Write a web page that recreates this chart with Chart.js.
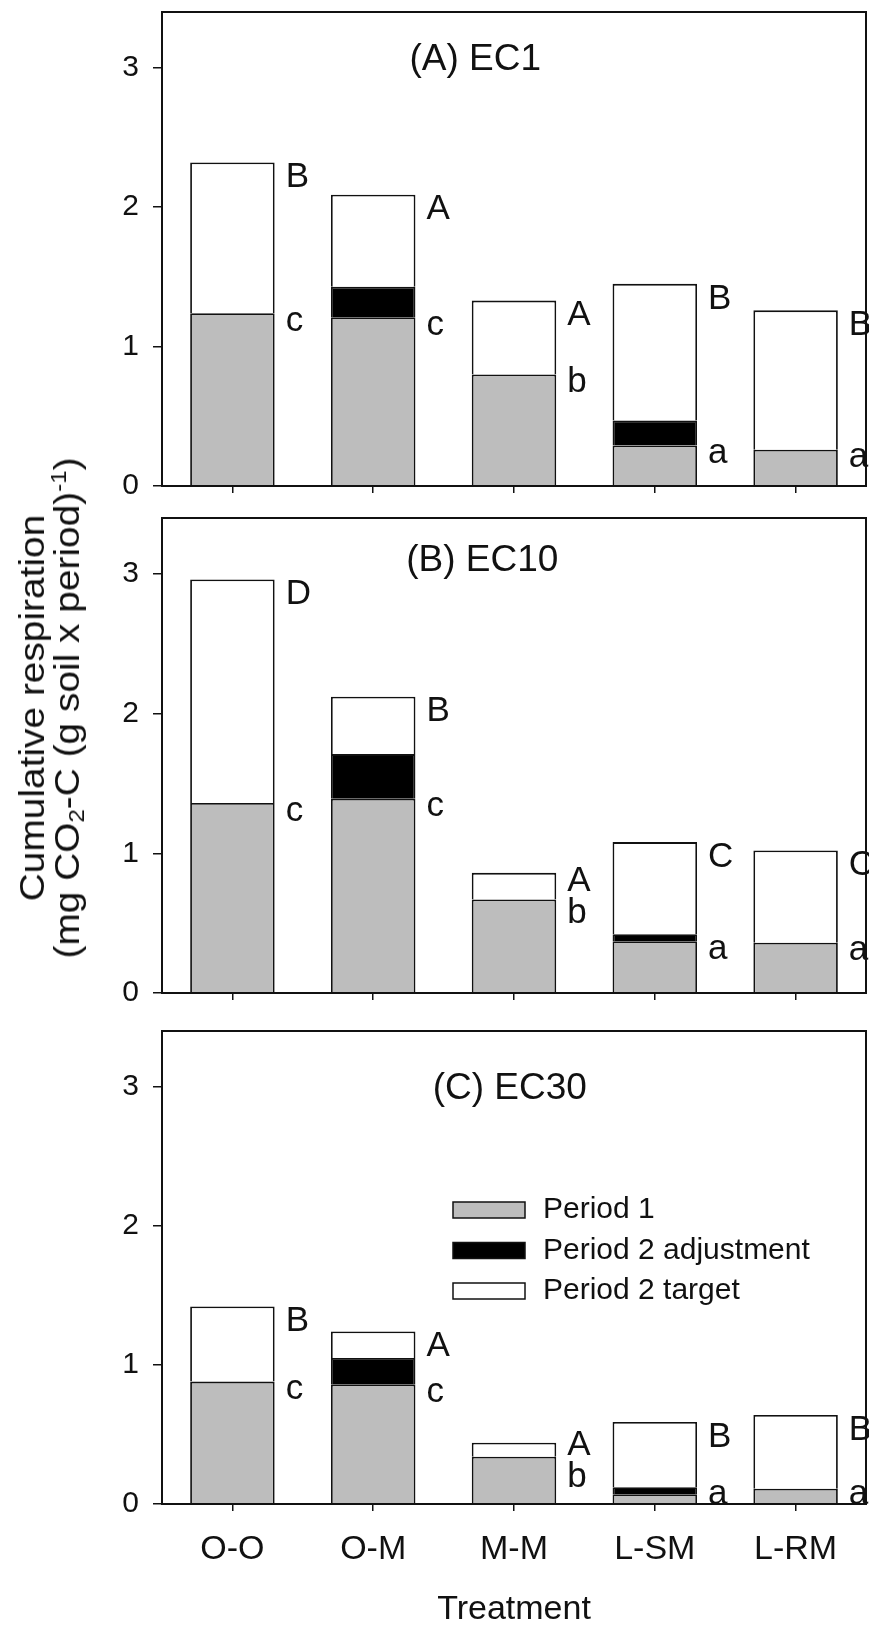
<!DOCTYPE html>
<html>
<head>
<meta charset="utf-8">
<script src="https://cdn.jsdelivr.net/npm/chart.js@4.4.0/dist/chart.umd.min.js"></script>
<style>
  body { margin: 0; background: #fff; }
  #wrap { position: relative; width: 869px; height: 1630px; overflow: hidden; }
  #wrap canvas { position: absolute; left: 0; }
  #ytitle {
    position: absolute; left: 49px; top: 708px;
    transform: translate(-50%, -50%) rotate(-90deg) scaleX(1.11);
    white-space: nowrap; text-align: center; color: #111;
    font-family: "Liberation Sans", Arial, sans-serif; font-size: 35px; line-height: 35px;
  }
  #ytitle sub, #ytitle sup { font-size: 0.62em; line-height: 0; }
  #ytitle sub { vertical-align: -0.25em; }
  #ytitle sup { vertical-align: 0.6em; }
</style>
</head>
<body>
<div id="wrap">
  <canvas id="ec1" width="869" height="506" style="top:0"></canvas>
  <canvas id="ec10" width="869" height="507" style="top:506px"></canvas>
  <canvas id="ec30" width="869" height="617" style="top:1013px"></canvas>
  <div id="ytitle">Cumulative respiration<br>(mg CO<sub>2</sub>-C (g soil x period)<sup>-1</sup>)</div>
</div>
<script>
const treatments = ["O-O", "O-M", "M-M", "L-SM", "L-RM"];
const yTicks = [0, 1, 2, 3];
const seriesNames = ["Period 1", "Period 2 adjustment", "Period 2 target"];

// stacked segment heights (mg CO2-C per g soil per period)
const ec1Period1 = [1.24, 1.21, 0.80, 0.29, 0.26];
const ec1Adjust  = [0,    0.22, 0,    0.18, 0];
const ec1Target  = [1.08, 0.66, 0.53, 0.98, 1.00];
const ec1Upper = ["B", "A", "A", "B", "B"];
const ec1Lower = ["c", "c", "b", "a", "a"];

const ec10Period1 = [1.36, 1.39, 0.67, 0.37, 0.36];
const ec10Adjust  = [0,    0.32, 0,    0.05, 0];
const ec10Target  = [1.60, 0.41, 0.19, 0.66, 0.66];
const ec10Upper = ["D", "B", "A", "C", "C"];
const ec10Lower = ["c", "c", "b", "a", "a"];

const ec30Period1 = [0.88, 0.86, 0.34, 0.07, 0.11];
const ec30Adjust  = [0,    0.19, 0,    0.05, 0];
const ec30Target  = [0.54, 0.19, 0.10, 0.47, 0.53];
const ec30Upper = ["B", "A", "A", "B", "B"];
const ec30Lower = ["c", "c", "b", "a", "a"];

const FONT = "'Liberation Sans', Arial, sans-serif";
const INK = "#111";
const fills = ["#bdbdbd", "#000000", "#ffffff"];

// frame, panel title, significance letters and (optionally) the legend
const panelDecor = {
    id: "panelDecor",
    afterDatasetsDraw(chart, args, opts) {
        const { ctx, chartArea: a } = chart;
        const y = chart.scales.y;
        const sets = chart.data.datasets;
        ctx.save();

        ctx.strokeStyle = INK;
        ctx.lineWidth = 2;
        ctx.strokeRect(a.left, a.top, a.right - a.left, a.bottom - a.top);

        ctx.fillStyle = INK;
        ctx.textBaseline = "middle";
        ctx.textAlign = "center";
        ctx.font = "37px " + FONT;
        ctx.fillText(opts.title, a.left + opts.titleX * (a.right - a.left), a.top + opts.titleDy);

        ctx.font = "35px " + FONT;
        ctx.textAlign = "left";
        chart.getDatasetMeta(0).data.forEach((bar, i) => {
            const total = sets.reduce((s, d) => s + d.data[i], 0);
            const x = bar.x + bar.width / 2 + 11;
            let yu = y.getPixelForValue(total) + 15;
            let yl = Math.min(y.getPixelForValue(sets[0].data[i]) + 8, a.bottom - 10);
            if (yl - yu < 32) {
                const m = (yu + yl) / 2;
                yu = m - 16;
                yl = m + 16;
            }
            ctx.fillText(opts.upper[i], x, yu);
            ctx.fillText(opts.lower[i], x, yl);
        });

        if (opts.legend) {
            ctx.font = "30px " + FONT;
            ctx.lineWidth = 1.5;
            sets.forEach((d, k) => {
                const bx = a.left + 291;
                const cy = a.top + 179 + k * 40.5;
                ctx.fillStyle = d.backgroundColor;
                ctx.fillRect(bx, cy - 8, 72, 16);
                ctx.strokeRect(bx, cy - 8, 72, 16);
                ctx.fillStyle = INK;
                ctx.fillText(d.label, bx + 90, cy);
            });
        }
        ctx.restore();
    }
};

function buildDatasets(p1, adj, tgt) {
    return [p1, adj, tgt].map((vals, k) => ({
        label: seriesNames[k],
        data: vals,
        backgroundColor: fills[k],
        borderColor: INK,
        borderWidth: 1.8,
        barPercentage: 0.6,
        categoryPercentage: 1.0
    }));
}

// keep the plot box fixed: no extra room for overhanging tick labels
function pinSize(s, w, h) {
    if (w !== null) s.width = w;
    if (h !== null) s.height = h;
    s.paddingTop = s.paddingBottom = s.paddingLeft = s.paddingRight = 0;
}

function makePanel(id, p1, adj, tgt, decor, bottomAxis) {
    const xAxis = {
        stacked: true,
        grid: { offset: false, drawOnChartArea: false, drawTicks: true, tickLength: 7, color: INK, lineWidth: 1.5 },
        border: { display: true, color: INK, width: 2 },
        ticks: { display: bottomAxis, color: INK, font: { family: FONT, size: 34, lineHeight: 1.2 }, padding: 18 },
        title: {
            display: bottomAxis, text: "Treatment", color: INK,
            font: { family: FONT, size: 34, lineHeight: 1.2 }, padding: { top: 0, bottom: 0 }
        },
        afterFit: s => pinSize(s, null, bottomAxis ? 126 : 20)
    };
    const yAxis = {
        stacked: true,
        min: 0,
        max: 3.4,
        afterBuildTicks: s => { s.ticks = yTicks.map(v => ({ value: v })); },
        grid: { drawOnChartArea: false, drawTicks: true, tickLength: 9, color: INK, lineWidth: 1.5 },
        border: { display: true, color: INK, width: 2 },
        ticks: { color: INK, font: { family: FONT, size: 30 }, padding: 14 },
        afterFit: s => pinSize(s, 162, null)
    };
    return new Chart(document.getElementById(id), {
        type: "bar",
        data: { labels: treatments, datasets: buildDatasets(p1, adj, tgt) },
        options: {
            responsive: false,
            animation: false,
            devicePixelRatio: 1,
            layout: { padding: { top: decor.padTop, right: 3, left: 0, bottom: 0 } },
            scales: { x: xAxis, y: yAxis },
            plugins: { legend: { display: false }, tooltip: { enabled: false }, panelDecor: decor }
        },
        plugins: [panelDecor]
    });
}

makePanel("ec1", ec1Period1, ec1Adjust, ec1Target,
    { title: "(A) EC1", titleX: 0.445, titleDy: 48, upper: ec1Upper, lower: ec1Lower, padTop: 12 }, false);
makePanel("ec10", ec10Period1, ec10Adjust, ec10Target,
    { title: "(B) EC10", titleX: 0.455, titleDy: 43, upper: ec10Upper, lower: ec10Lower, padTop: 12 }, false);
makePanel("ec30", ec30Period1, ec30Adjust, ec30Target,
    { title: "(C) EC30", titleX: 0.494, titleDy: 58, upper: ec30Upper, lower: ec30Lower, padTop: 18, legend: true }, true);
</script>
</body>
</html>
